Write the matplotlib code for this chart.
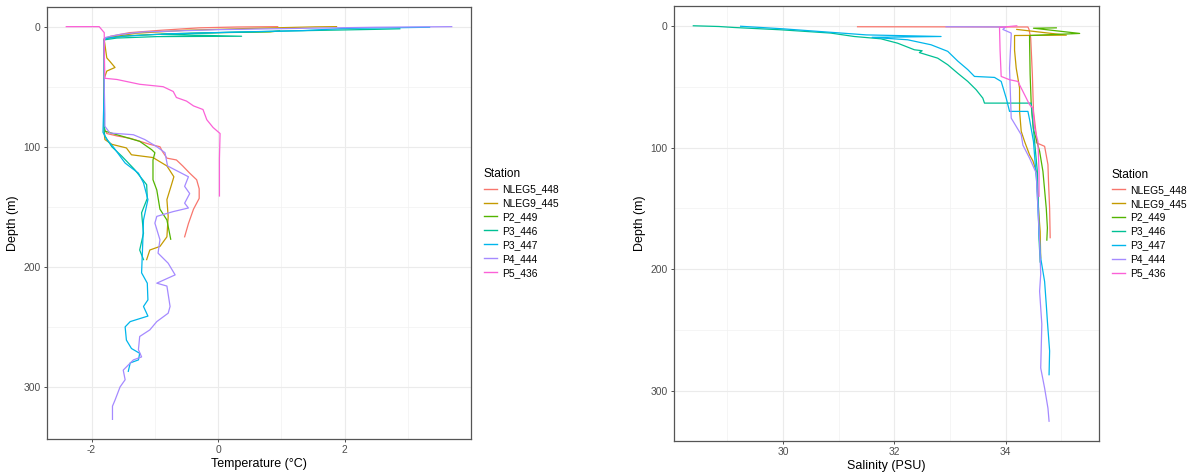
import matplotlib
matplotlib.use("Agg")
import matplotlib.pyplot as plt
from matplotlib.ticker import MultipleLocator

plt.rcParams['font.family'] = ['Liberation Sans', 'DejaVu Sans']
plt.rcParams['axes.unicode_minus'] = False

stations = ["NLEG5_448", "NLEG9_445", "P2_449", "P3_446", "P3_447", "P4_444", "P5_436"]
station_colors = ["#F8766D", "#C49A00", "#53B400", "#00C094", "#00B6EB", "#A58AFF", "#FB61D7"]

# --- temperature casts: depth (m) and temperature (degC) ---
nleg5_448_t_depth = [0, 0.3, 1, 3, 5, 8, 10, 30, 60, 85, 89, 91, 93, 98, 100, 104, 109.5, 111, 116, 122,
                     127.5, 135, 143, 152, 164, 175]
nleg5_448_temp = [0.94, 0.3, -0.3, -0.9, -1.4, -1.7, -1.8, -1.80, -1.81, -1.80, -1.76, -1.6, -1.39, -1.08,
                  -0.92, -0.88, -0.81, -0.66, -0.56, -0.45, -0.34, -0.30, -0.30, -0.39, -0.47, -0.53]

nleg9_445_t_depth = [0, 0.2, 1.5, 3, 5.5, 9, 11, 26, 29, 34, 37, 43, 70, 89, 94, 98, 101, 106.7, 109,
                     116, 125, 132, 144, 158, 175, 183, 186, 194]
nleg9_445_temp = [1.87, 1.53, 0.5, -0.5, -1.3, -1.72, -1.8, -1.76, -1.71, -1.63, -1.76, -1.8, -1.8, -1.80,
                  -1.79, -1.68, -1.45, -1.37, -1.03, -0.81, -0.70, -0.74, -0.81, -0.79, -0.81, -0.92,
                  -1.08, -1.13]

p2_449_t_depth = [3.5, 4.4, 5, 6, 7.5, 9.5, 11, 50, 82, 87, 90, 95.5, 102.5, 105, 111, 127.5, 136, 152,
                  161, 177]
p2_449_temp = [0.97, 0.82, 0.0, -0.8, -1.4, -1.75, -1.8, -1.8, -1.8, -1.79, -1.60, -1.24, -1.05, -1.0,
               -1.03, -1.03, -0.97, -0.92, -0.81, -0.75]

p3_446_t_depth = [1.8, 2.3, 3.5, 5, 6.5, 8, 8.3, 9.5, 11, 60, 88, 91, 100, 108, 119, 131.6, 143, 155,
                  172, 186, 194]
p3_446_temp = [2.87, 2.45, 1.2, 0.0, -0.9, 0.37, -0.97, -1.6, -1.8, -1.8, -1.8, -1.79, -1.68, -1.52,
               -1.32, -1.13, -1.12, -1.21, -1.18, -1.24, -1.18]

p3_447_t_depth = [0.5, 1.5, 3.3, 4.5, 6, 8, 10, 50, 88, 94, 100, 113.6, 122, 130, 144, 161, 177.5, 205,
                  213.6, 227.5, 233, 241, 245.6, 250, 261, 268, 272, 277.5, 280, 287]
p3_447_temp = [3.34, 2.0, 1.34, 0.3, -0.8, -1.5, -1.8, -1.8, -1.82, -1.76, -1.66, -1.47, -1.26, -1.18,
               -1.11, -1.18, -1.19, -1.21, -1.12, -1.11, -1.18, -1.11, -1.39, -1.47, -1.45, -1.37,
               -1.24, -1.26, -1.39, -1.42]

p4_444_t_depth = [0, 0.5, 1.5, 2.5, 4, 4.4, 6.5, 9, 12, 50, 73, 83, 88.6, 90, 94, 100, 105, 116, 125,
                  133, 139, 147, 151, 154, 158, 163.6, 177.5, 188.6, 197, 206.7, 213.6, 216, 233, 238.6,
                  245.6, 252.5, 258, 269, 275, 277.5, 286, 294, 300, 311, 316, 327]
p4_444_temp = [3.69, 2.5, 1.2, 0.0, -0.9, -1.18, -1.55, -1.78, -1.8, -1.8, -1.79, -1.79, -1.71, -1.34,
               -1.16, -0.97, -0.84, -0.80, -0.47, -0.53, -0.45, -0.53, -0.47, -0.71, -0.97, -1.0,
               -0.92, -0.95, -0.79, -0.68, -0.97, -0.81, -0.76, -0.79, -0.97, -1.08, -1.24, -1.26,
               -1.21, -1.34, -1.50, -1.47, -1.55, -1.63, -1.67, -1.67]

p5_436_t_depth = [0, 0, 5, 20, 43, 44, 48, 50, 54, 59, 62, 66, 69, 77.5, 84, 89, 110, 141]
p5_436_temp = [-2.40, -1.88, -1.80, -1.80, -1.79, -1.6, -1.24, -0.87, -0.71, -0.66, -0.5, -0.39, -0.24,
               -0.18, -0.08, 0.03, 0.02, 0.02]

# --- salinity casts: depth (m) and salinity (PSU) ---
nleg5_448_s_depth = [0.8, 1.0, 3, 10, 40, 70, 89.5, 96, 99, 114, 128, 150, 174]
nleg5_448_sal = [31.34, 34.40, 34.42, 34.45, 34.48, 34.50, 34.55, 34.55, 34.70, 34.76, 34.77, 34.79, 34.80]

nleg9_445_s_depth = [3, 7.7, 8, 20, 34.8, 51, 70, 86.7, 95, 106, 111, 119.6, 150, 169, 190.7]
nleg9_445_sal = [34.20, 35.09, 34.16, 34.16, 34.19, 34.25, 34.25, 34.28, 34.34, 34.43, 34.49, 34.55,
                 34.59, 34.62, 34.63]

p2_449_s_depth = [1.7, 2, 6.3, 8, 13, 40, 65, 85, 103, 119.6, 150, 166, 176]
p2_449_sal = [34.91, 34.50, 35.33, 34.43, 34.43, 34.44, 34.46, 34.50, 34.61, 34.67, 34.73, 34.75, 34.74]

p3_446_s_depth = [0, 0.6, 1.4, 3.3, 6, 8.8, 10.7, 14.3, 19.7, 20.5, 22, 26.6, 32, 39, 45.7, 52.5, 59.4,
                  63.5, 63.5, 75, 95, 120, 150, 175, 194]
p3_446_sal = [28.39, 28.85, 29.12, 29.96, 30.86, 31.28, 31.76, 32.06, 32.36, 32.50, 32.45, 32.78, 32.96,
              33.14, 33.32, 33.47, 33.59, 33.62, 34.46, 34.48, 34.52, 34.57, 34.59, 34.60, 34.62]

p3_447_s_depth = [0.4, 2.5, 5.5, 7.5, 8.8, 9.5, 11.5, 15.6, 21, 29, 36, 41.6, 42.4, 45.7, 59.4, 70.3,
                  70.3, 77, 95, 130, 170, 190.7, 210, 229, 242.7, 267, 286.5]
p3_447_sal = [29.24, 30.0, 30.9, 31.5, 32.84, 31.6, 32.24, 32.66, 32.96, 33.14, 33.32, 33.44, 33.80,
              33.92, 34.01, 34.07, 34.40, 34.43, 34.50, 34.56, 34.60, 34.63, 34.70, 34.73, 34.75,
              34.79, 34.78]

p4_444_s_depth = [0.8, 1, 3, 6, 7.4, 34.8, 75.8, 89.5, 98, 108.7, 121, 177, 204, 218, 245, 281, 297.5,
                  314, 324.7]
p4_444_sal = [32.93, 34.0, 33.95, 34.10, 34.10, 34.07, 34.10, 34.28, 34.31, 34.43, 34.55, 34.61, 34.63,
              34.61, 34.65, 34.63, 34.70, 34.76, 34.78]

p5_436_s_depth = [0, 1.4, 20, 41.6, 44.3, 45.7, 64.8, 67.6, 84, 95, 120, 140]
p5_436_sal = [34.20, 33.89, 33.90, 33.92, 34.07, 34.22, 34.43, 34.49, 34.52, 34.58, 34.60, 34.60]

temp_casts = [(nleg5_448_temp, nleg5_448_t_depth), (nleg9_445_temp, nleg9_445_t_depth),
              (p2_449_temp, p2_449_t_depth), (p3_446_temp, p3_446_t_depth),
              (p3_447_temp, p3_447_t_depth), (p4_444_temp, p4_444_t_depth),
              (p5_436_temp, p5_436_t_depth)]
sal_casts = [(nleg5_448_sal, nleg5_448_s_depth), (nleg9_445_sal, nleg9_445_s_depth),
             (p2_449_sal, p2_449_s_depth), (p3_446_sal, p3_446_s_depth),
             (p3_447_sal, p3_447_s_depth), (p4_444_sal, p4_444_s_depth),
             (p5_436_sal, p5_436_s_depth)]


def profile_panel(ax, casts, xlabel, xstep):
    for (x, d), name, col in zip(casts, stations, station_colors):
        ax.plot(x, d, color=col, lw=0.9, label=name, solid_joinstyle='round')
    ax.invert_yaxis()
    ax.xaxis.set_major_locator(MultipleLocator(xstep))
    ax.xaxis.set_minor_locator(MultipleLocator(xstep / 2))
    ax.yaxis.set_major_locator(MultipleLocator(100))
    ax.yaxis.set_minor_locator(MultipleLocator(50))
    ax.grid(which='major', color='#EBEBEB', lw=0.8)
    ax.grid(which='minor', color='#F2F2F2', lw=0.5)
    ax.set_axisbelow(True)
    ax.tick_params(which='major', length=2.5, width=0.6, color='#333333',
                   labelsize=7.4, labelcolor='#4D4D4D', pad=2)
    ax.tick_params(which='minor', length=0)
    for sp in ax.spines.values():
        sp.set_color('#555555')
        sp.set_linewidth(0.9)
    ax.set_xlabel(xlabel, fontsize=9, labelpad=2)
    ax.set_ylabel("Depth (m)", fontsize=9, labelpad=3)
    leg = ax.legend(loc='center left', bbox_to_anchor=(1.018, 0.5), frameon=False,
                    title="Station", fontsize=7.4, title_fontsize=8.6, alignment='left',
                    handlelength=1.3, handletextpad=0.5, labelspacing=0.38, borderpad=0)
    for h in leg.legend_handles:
        h.set_linewidth(1.0)


fig = plt.figure(figsize=(11.9, 4.72), dpi=100)
ax_t = fig.add_axes([47 / 1190, 33 / 472, 424 / 1190, 432 / 472])
ax_s = fig.add_axes([674 / 1190, 31 / 472, 425 / 1190, 435 / 472])

profile_panel(ax_t, temp_casts, "Temperature (\u00b0C)", 2)
profile_panel(ax_s, sal_casts, "Salinity (PSU)", 2)

fig.savefig("out.png", dpi=100)
